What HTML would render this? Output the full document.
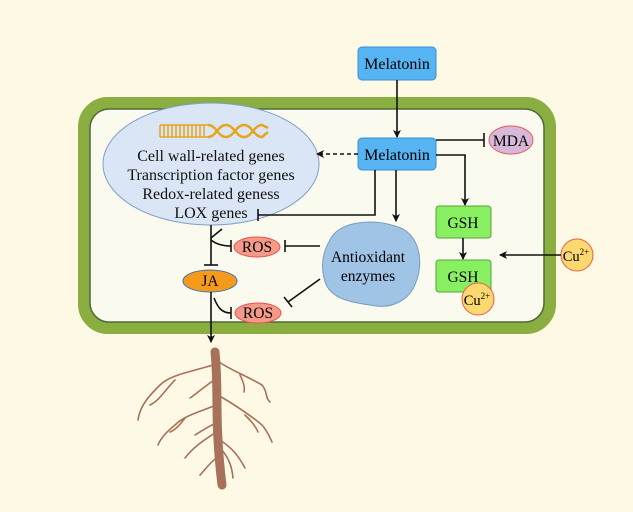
<!DOCTYPE html>
<html><head><meta charset="utf-8"><style>
html,body{margin:0;padding:0;background:#fdf9e4;}
svg{display:block;font-family:"Liberation Serif",serif;}
</style></head><body>
<svg width="633" height="512" viewBox="0 0 633 512" xmlns="http://www.w3.org/2000/svg">
<defs>
<marker id="ar" markerWidth="8" markerHeight="8" refX="7" refY="4" orient="auto" markerUnits="userSpaceOnUse"><path d="M0,0 L8,4 L0,8 L2,4 z" fill="#111"/></marker>
</defs>
<rect width="633" height="512" fill="#fdf9e4"/>
<rect x="84" y="103" width="466" height="225" rx="24" fill="#fafbee" stroke="#8aae3f" stroke-width="12"/>
<rect x="90" y="109" width="454" height="213" rx="19" fill="none" stroke="#4d6a3a" stroke-width="1.5"/>

<ellipse cx="211" cy="164" rx="108" ry="61" fill="#dae6f5" stroke="#7d9fc8" stroke-width="1"/>
<g stroke="#e6a51c" stroke-width="1.5" fill="none">
<line x1="160" y1="125" x2="208" y2="125"/><line x1="160" y1="137" x2="208" y2="137"/>
<path d="M160,125v12M164,125v12M168,125v12M172,125v12M176,125v12M180,125v12M184,125v12M188,125v12M192,125v12M196,125v12M200,125v12M204,125v12"/>
<path d="M208,125 C216,125 218,137 226,137 C234,137 236,125 244,125 C252,125 254,137 262,137 L268,132" stroke-width="2.5"/>
<path d="M208,137 C216,137 218,125 226,125 C234,125 236,137 244,137 C252,137 254,125 262,125 L268,128" stroke-width="2.5"/>
</g>
<g font-size="16" fill="#111" text-anchor="middle">
<text x="211" y="161">Cell wall-related genes</text>
<text x="211" y="180">Transcription factor genes</text>
<text x="211" y="199">Redox-related geness</text>
<text x="211" y="218">LOX genes</text>
</g>

<rect x="358" y="47" width="78" height="33" rx="4" fill="#57b4f2" stroke="#3a8fd0"/>
<text x="397" y="69" font-size="16" text-anchor="middle">Melatonin</text>
<rect x="358" y="138" width="78" height="32" rx="4" fill="#57b4f2" stroke="#3a8fd0"/>
<text x="397" y="160" font-size="16" text-anchor="middle">Melatonin</text>

<ellipse cx="511" cy="140" rx="22" ry="14" fill="#d8b8d8" stroke="#e85a6a"/>
<text x="511" y="146" font-size="15.5" text-anchor="middle">MDA</text>

<rect x="436" y="206" width="55" height="32" rx="3" fill="#88f060" stroke="#5aa040"/>
<text x="463" y="228" font-size="15.5" text-anchor="middle">GSH</text>
<rect x="436" y="260" width="55" height="32" rx="3" fill="#88f060" stroke="#5aa040"/>
<text x="463" y="282" font-size="15.5" text-anchor="middle">GSH</text>
<circle cx="478" cy="299" r="16" fill="#fbd870" stroke="#ee5a4a"/>
<text x="477" y="305" font-size="14.5" text-anchor="middle">Cu<tspan font-size="9" dy="-6">2+</tspan></text>
<circle cx="577" cy="255" r="16" fill="#fbd870" stroke="#ee5a4a"/>
<text x="576" y="261" font-size="14.5" text-anchor="middle">Cu<tspan font-size="9" dy="-6">2+</tspan></text>

<path d="M330,240 C338,222 370,218 395,226 C420,232 424,262 416,282 C410,300 392,310 370,305 C348,302 328,298 324,278 C320,262 324,250 330,240 z" fill="#a0c4e6" stroke="#7a9cc0"/>
<text x="368" y="262" font-size="15.5" text-anchor="middle">Antioxidant</text>
<text x="368" y="281" font-size="15.5" text-anchor="middle">enzymes</text>

<ellipse cx="257" cy="247" rx="23" ry="10" fill="#f59a88" stroke="#ee5050"/>
<text x="257" y="252" font-size="15.5" text-anchor="middle">ROS</text>
<ellipse cx="210" cy="281" rx="27" ry="11" fill="#f59a1a" stroke="#4070b0"/>
<text x="210" y="286" font-size="15.5" text-anchor="middle">JA</text>
<ellipse cx="258" cy="313" rx="23" ry="10" fill="#f59a88" stroke="#ee5050"/>
<text x="258" y="318" font-size="15.5" text-anchor="middle">ROS</text>

<g stroke="#111" stroke-width="1.6" fill="none">
<line x1="397" y1="80" x2="397" y2="137" marker-end="url(#ar)"/>
<line x1="358" y1="154" x2="317" y2="154" stroke-dasharray="4,3" marker-end="url(#ar)"/>
<path d="M375,170 V215 H258"/><line x1="258" y1="209" x2="258" y2="221"/>
<line x1="436" y1="140" x2="484" y2="140"/><line x1="484" y1="133" x2="484" y2="147"/>
<path d="M436,155 H465 V205" marker-end="url(#ar)"/>
<line x1="396" y1="170" x2="396" y2="221" marker-end="url(#ar)"/>
<line x1="463" y1="238" x2="463" y2="259" marker-end="url(#ar)"/>
<line x1="561" y1="255" x2="500" y2="255" marker-end="url(#ar)"/>
<line x1="320" y1="246" x2="285" y2="246"/><line x1="285" y1="240" x2="285" y2="252"/>
<line x1="320" y1="279" x2="288" y2="302"/><line x1="284" y1="297" x2="292" y2="307"/>
<line x1="211" y1="225" x2="211" y2="265"/><line x1="204" y1="265" x2="218" y2="265"/>
<path d="M211,238 L222,229"/><path d="M211,240 C216,244 222,246 231,246"/><line x1="231" y1="240" x2="231" y2="252"/>
<path d="M214,298 C218,308 222,313 231,313"/><line x1="231" y1="307" x2="231" y2="319"/>
<line x1="211" y1="292" x2="211" y2="342" marker-end="url(#ar)"/>
</g>

<g stroke="#a8725a" fill="none" stroke-linecap="round">
<path d="M215,352 C219,390 214,420 222,485" stroke-width="9"/>
<g stroke-width="1.6">
<path d="M213,365 C190,372 170,375 160,385 C150,395 140,405 138,420"/>
<path d="M175,380 C165,390 160,400 150,405"/>
<path d="M214,380 C200,390 195,395 190,398"/>
<path d="M216,360 C230,370 245,375 262,385 C268,392 265,398 270,402"/>
<path d="M240,375 C244,383 245,388 244,392"/>
<path d="M216,405 C200,412 185,415 175,425 C165,433 160,440 158,445"/>
<path d="M185,418 C180,425 175,430 170,432"/>
<path d="M218,395 C235,405 250,415 262,425 C268,432 270,438 272,442"/>
<path d="M245,415 C250,420 255,425 258,432"/>
<path d="M219,430 C205,440 195,445 185,458"/>
<path d="M218,422 C205,428 200,432 195,435"/>
<path d="M220,440 C232,448 238,455 245,468"/>
<path d="M220,455 C210,462 205,470 200,475"/>
<path d="M222,450 C230,460 232,468 233,478"/>
</g></g>
</svg>
</body></html>
